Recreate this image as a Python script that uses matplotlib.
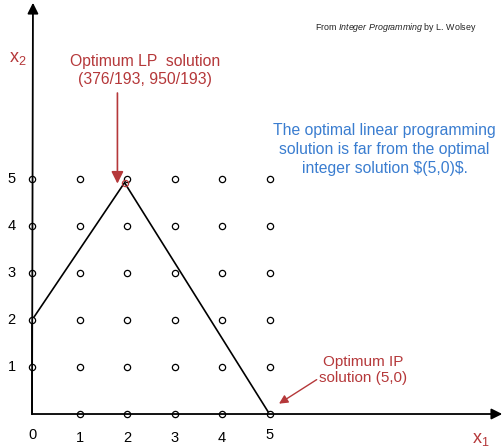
import numpy as np
import matplotlib.pyplot as plt

plt.rcParams['font.family'] = ['Liberation Sans', 'DejaVu Sans']
plt.rcParams['mathtext.fontset'] = 'custom'
plt.rcParams['mathtext.rm'] = 'Liberation Sans'
plt.rcParams['mathtext.it'] = 'Liberation Sans:italic'

RED = "#b5383a"
BLUE = "#3a7dd0"

# integer lattice points
grid_x = [0, 1, 2, 3, 4, 5]
grid_y = [0, 1, 2, 3, 4, 5]
tick_labels = ["0", "1", "2", "3", "4", "5"]

# feasible region outline (LP relaxation)
lp_opt = (376 / 193, 950 / 193)
ip_opt = (5, 0)
poly_x = [0, 0, lp_opt[0], 5]
poly_y = [0, 2, lp_opt[1], 0]

fig = plt.figure(figsize=(5.03, 4.47), dpi=100)
ax = fig.add_axes([0, 0, 1, 1])
# map data units onto the drawing: origin near (32, 414) px, ~47.5 px per unit
ax.set_xlim(-0.674, 9.916)
ax.set_ylim(-0.702, 8.809)
ax.axis("off")

# axes with arrow heads
ax.annotate("", xy=(9.9, 0), xytext=(0, 0),
            arrowprops=dict(arrowstyle="-|>", color="black", lw=1.3,
                            mutation_scale=16, shrinkA=0, shrinkB=0))
ax.annotate("", xy=(0.02, 8.75), xytext=(0, 0),
            arrowprops=dict(arrowstyle="-|>", color="black", lw=1.3,
                            mutation_scale=16, shrinkA=0, shrinkB=0))

# polygon
ax.plot(poly_x, poly_y, color="black", lw=1.2)

# lattice points (skip origin which sits on the corner)
gx, gy = np.meshgrid(grid_x, grid_y)
mask = ~((gx == 0) & (gy == 0))
ax.plot(gx[mask], gy[mask], "o", ms=4.5, mfc="white", mec="black", mew=0.9,
        linestyle="none")
ax.plot(*lp_opt, "o", ms=4.5, mfc="none", mec=RED, mew=0.9)

# tick labels
for i, lab in enumerate(tick_labels):
    dy = -0.45 if i in (0, 5) else -0.5
    ax.text(grid_x[i], dy, lab, ha="center", va="center", fontsize=10.5)
for j, lab in enumerate(tick_labels[1:], start=1):
    ax.text(-0.43, grid_y[j], lab, ha="center", va="center", fontsize=10.5)

# axis names
ax.text(9.45, -0.55, "x$_1$", color=RED, fontsize=13, ha="center", va="center")
ax.text(-0.3, 7.57, "x$_2$", color=RED, fontsize=13, ha="center", va="center")

# annotations
ax.text(2.38, 7.3, "Optimum LP  solution\n(376/193, 950/193)",
        ha="center", va="center", color=RED, fontsize=11.3, linespacing=1.25)
ax.annotate("", xy=(lp_opt[0] - 0.15, lp_opt[1] - 0.02),
            xytext=(lp_opt[0] - 0.15, 6.83),
            arrowprops=dict(arrowstyle="-|>", color=RED, lw=1.2,
                            mutation_scale=18, shrinkA=0, shrinkB=0))
ax.annotate("Optimum IP\nsolution (5,0)",
            xy=(ip_opt[0] + 0.2, 0.22), xytext=(6.98, 0.93),
            ha="center", va="center", color=RED, fontsize=11,
            linespacing=1.2,
            arrowprops=dict(arrowstyle="-|>", color=RED, lw=1.0,
                            mutation_scale=13, shrinkA=0, shrinkB=0,
                            relpos=(0.0, 0.25)))

ax.text(7.42, 5.63,
        "The optimal linear programming\nsolution is far from the optimal\ninteger solution \\$(5,0)\\$.",
        color=BLUE, fontsize=11.3, ha="center", va="center", linespacing=1.3)

ax.text(7.66, 8.23, "From $\\it{Integer\\ Programming}$ by L. Wolsey",
        fontsize=6.4, ha="center", va="center", color="#222222")

fig.savefig("out.png", dpi=100)
